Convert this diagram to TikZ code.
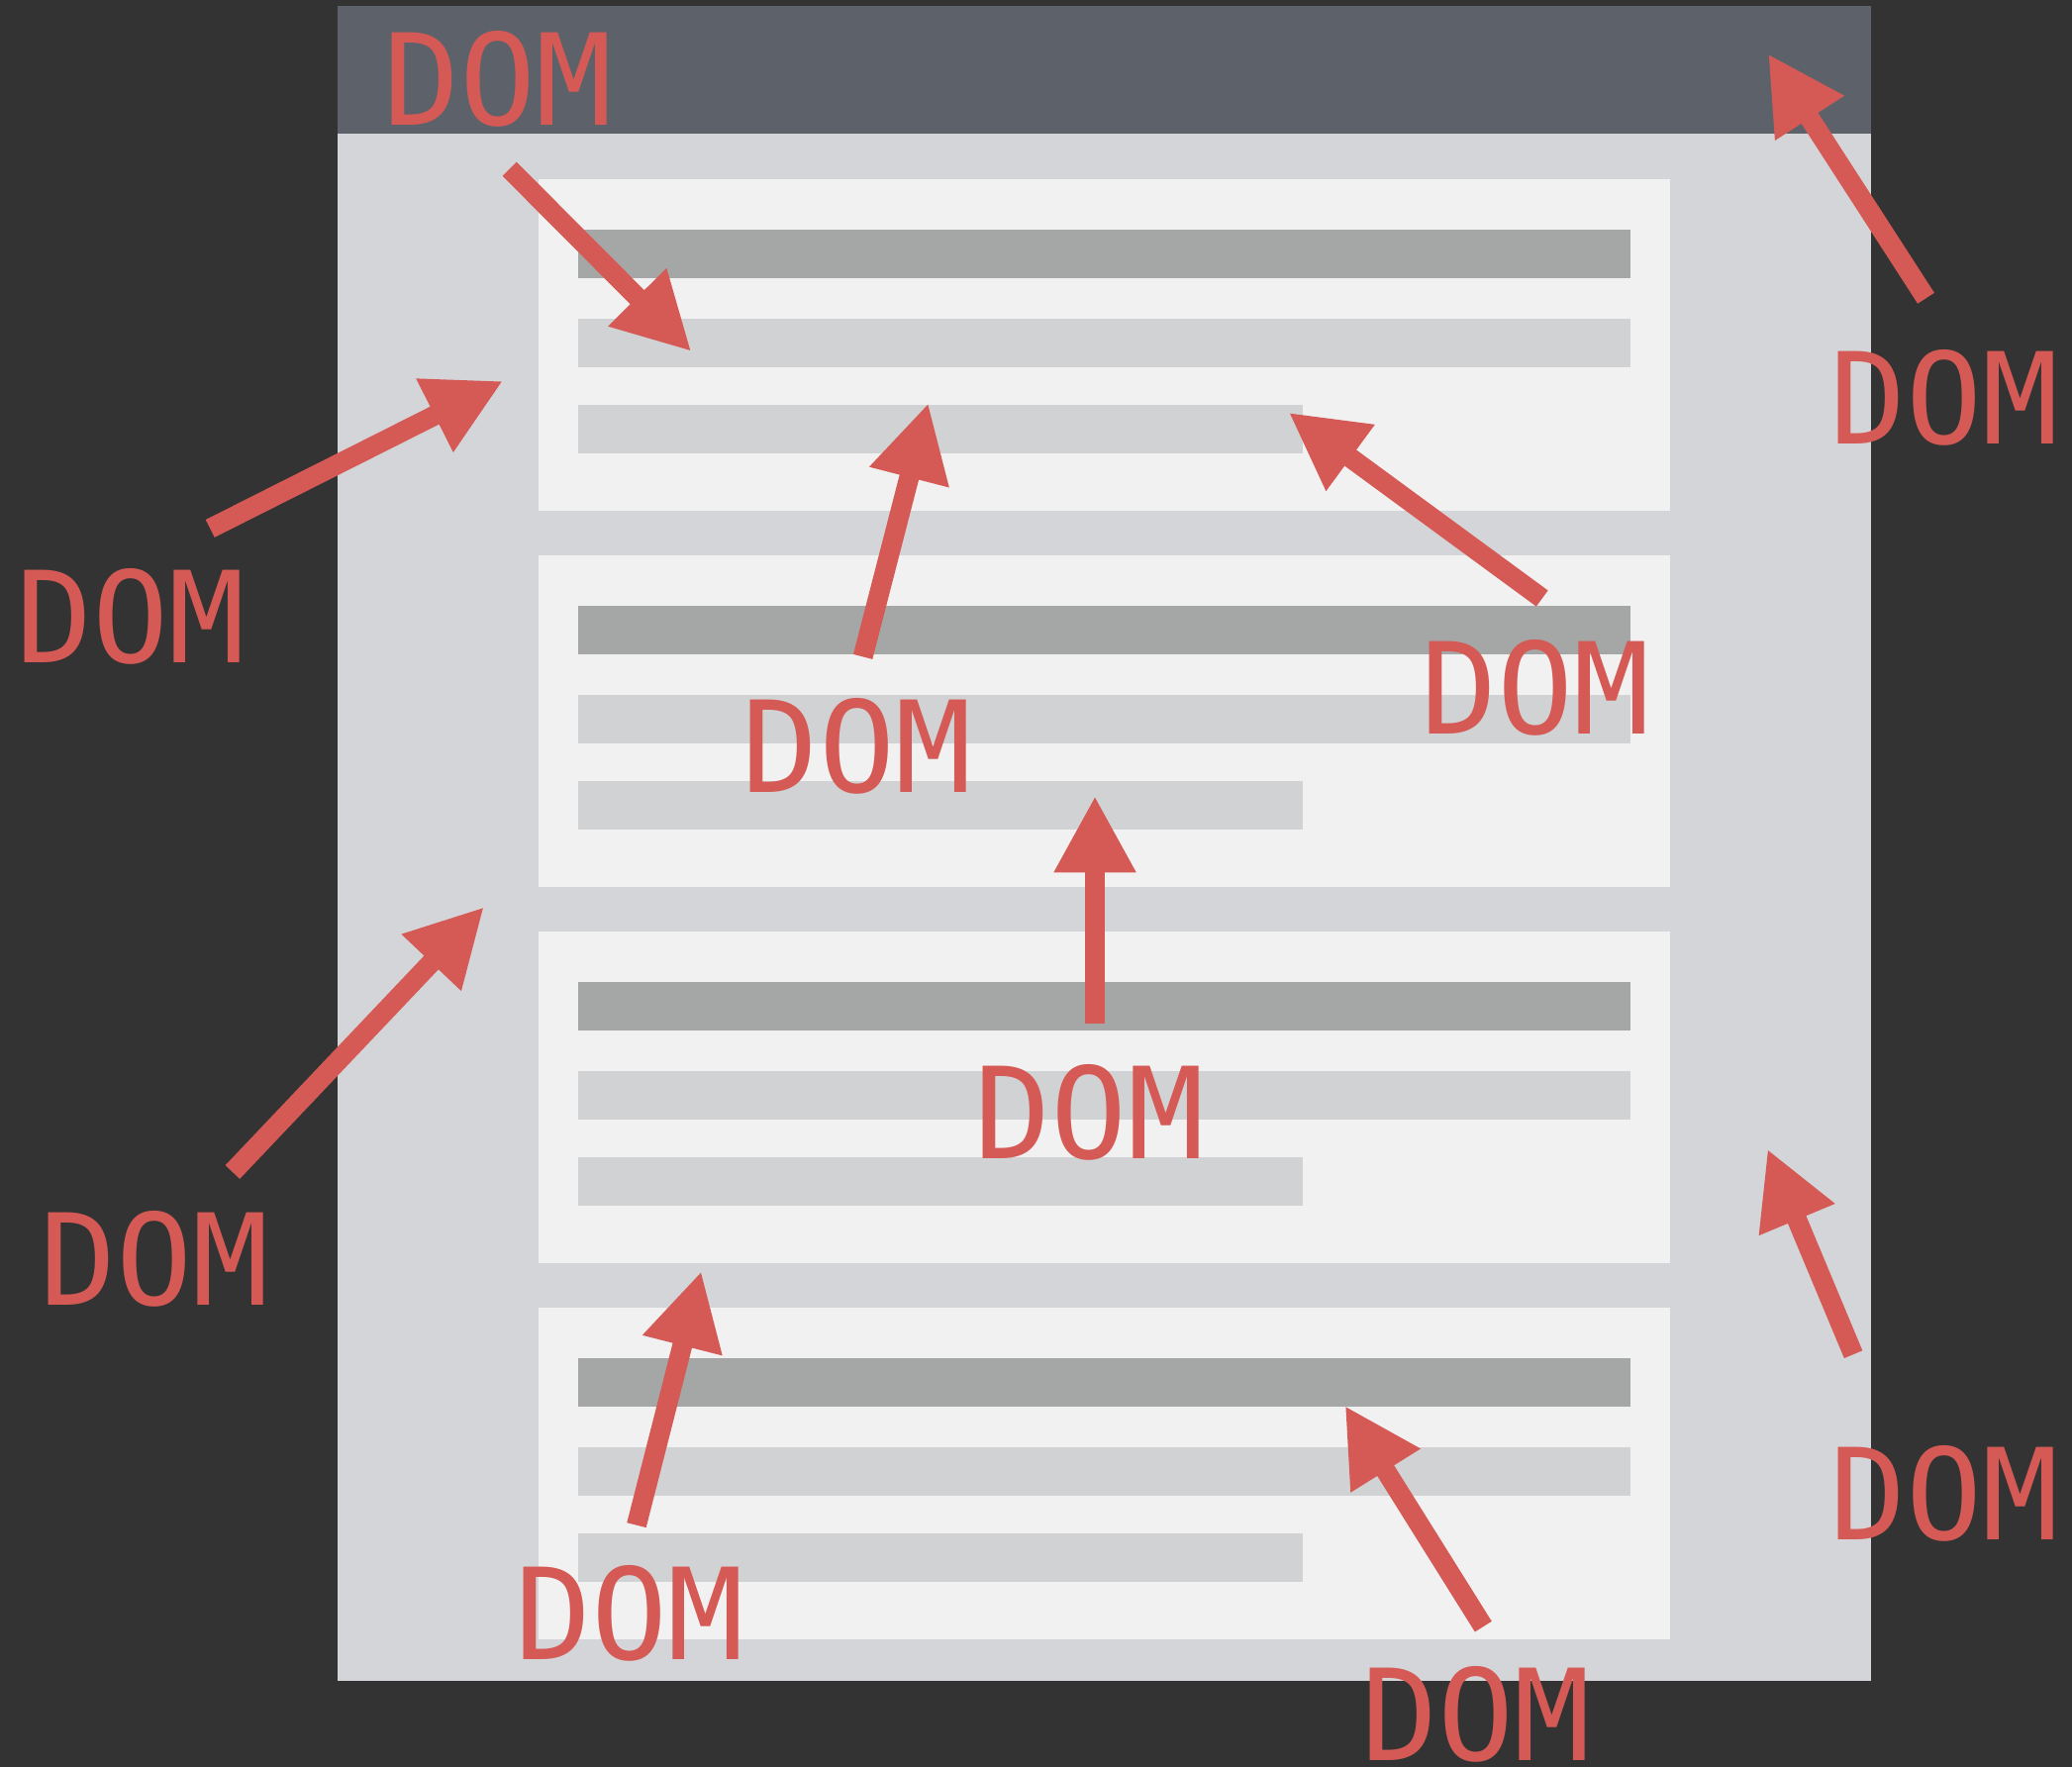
\documentclass[tikz,border=0pt]{standalone}
\usepackage{fontspec}
\usetikzlibrary{arrows.meta}
\newfontfamily\domfont{DejaVu Sans Mono}
\definecolor{bgdark}{HTML}{333333}
\definecolor{titlebar}{HTML}{5D6169}
\definecolor{bodygray}{HTML}{D4D5D8}
\definecolor{cardwhite}{HTML}{F1F1F1}
\definecolor{bardark}{HTML}{A5A7A6}
\definecolor{barlight}{HTML}{D1D2D4}
\definecolor{domred}{HTML}{D55A56}
\tikzset{
  card/.style={fill=cardwhite, draw=none},
  darkbar/.style={fill=bardark, draw=none},
  lightbar/.style={fill=barlight, draw=none},
  pointer/.style={draw=domred, line width=15pt, -{Triangle[length=58pt,width=58pt]}, fill=domred},
  domlabel/.style={text=domred, font=\domfont\fontsize{96}{100}\selectfont, inner sep=0pt, anchor=base}
}
\begin{document}
\begin{tikzpicture}[x=1pt,y=-1pt]
\useasboundingbox (0,0) rectangle (1568,1337);
\fill[bgdark] (0,0) rectangle (1568,1337);
% window
\fill[bodygray] (255.5,4.5) rectangle (1416,1272);
\fill[titlebar] (255.5,4.5) rectangle (1416,101);
% cards
\foreach \i in {0,1,2,3}{
  \pgfmathsetmacro{\T}{135.6+284.7*\i}
  \fill[card] (407.6,\T) rectangle (1264,\T+250.7);
  \fill[darkbar] (437.5,\T+38) rectangle (1233.7,\T+74.9);
  \fill[lightbar] (437.5,\T+105.6) rectangle (1233.7,\T+142.1);
  \fill[lightbar] (437.5,\T+171.1) rectangle (985.7,\T+207.3);
}
% arrow ends
\coordinate (t1) at (385.6,127.9);  \coordinate (h1) at (523.2,266);
\coordinate (t2) at (1457.5,225.7); \coordinate (h2) at (1338,40.7);
\coordinate (t3) at (159,400);      \coordinate (h3) at (380.7,288.3);
\coordinate (t4) at (653,497);      \coordinate (h4) at (702.5,305);
\coordinate (t5) at (1167,452.9);   \coordinate (h5) at (975.2,312.2);
\coordinate (t6) at (828.6,774.7);  \coordinate (h6) at (828.6,602.3);
\coordinate (t7) at (176,887);      \coordinate (h7) at (366.3,686.4);
\coordinate (t8) at (1402.5,1025);  \coordinate (h8) at (1337.5,869.5);
\coordinate (t9) at (481.7,1154.2); \coordinate (h9) at (530.7,962);
\coordinate (t10) at (1122.5,1231); \coordinate (h10) at (1017.8,1063.8);
\foreach \k in {1,...,10}{
  \draw[pointer] (t\k) -- (h\k);
}
% labels
\node[domlabel] (l1) at (376.9,94.4) {DOM};
\node[domlabel] (l2) at (1471.5,336) {DOM};
\node[domlabel] (l3) at (99.1,501.5) {DOM};
\node[domlabel] (l4) at (648.5,599.5) {DOM};
\node[domlabel] (l5) at (1162.2,555.6) {DOM};
\node[domlabel] (l6) at (824.4,877) {DOM};
\node[domlabel] (l7) at (117,988) {DOM};
\node[domlabel] (l8) at (1471.5,1165.3) {DOM};
\node[domlabel] (l9) at (476.7,1256) {DOM};
\node[domlabel] (l10) at (1117.3,1332) {DOM};
\end{tikzpicture}
\end{document}
